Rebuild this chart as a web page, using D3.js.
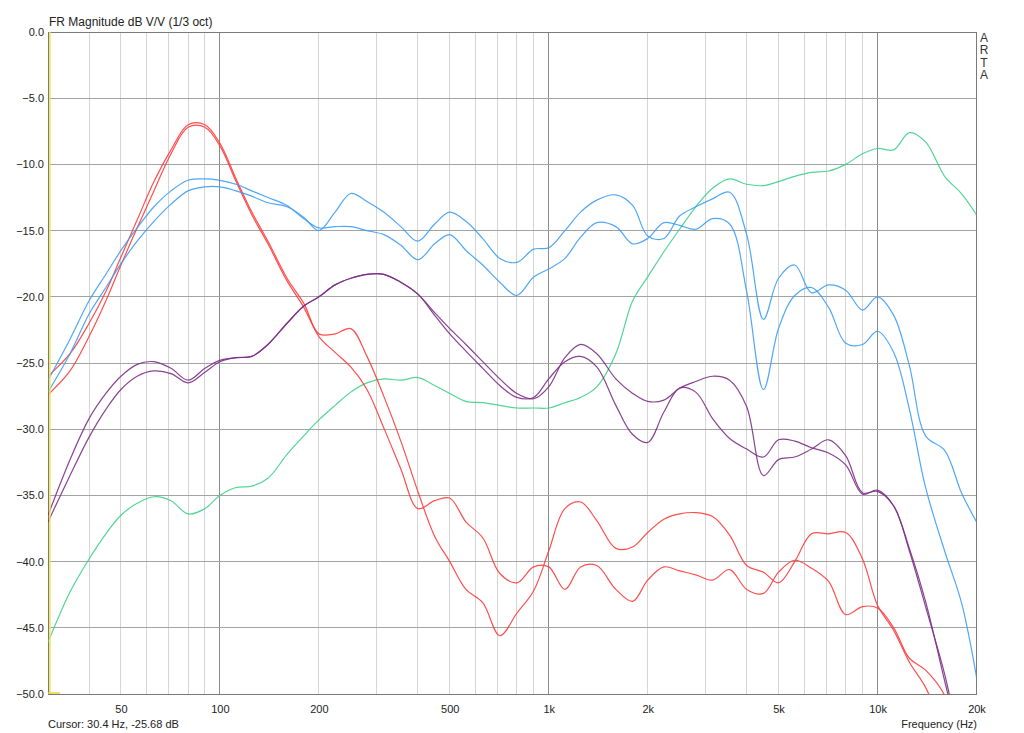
<!DOCTYPE html>
<html><head><meta charset="utf-8">
<script src="https://cdn.jsdelivr.net/npm/d3@7"></script>
<style>
html,body{margin:0;padding:0;background:#fff;}
svg{display:block;font-family:"Liberation Sans",Arial,sans-serif;}
</style></head>
<body>
<svg id="chart" width="1024" height="733"></svg>
<script>
const freqs = [30,35,40,45,50,56,63,71,80,90,100,112,125,140,160,180,200,224,250,280,315,355,400,450,500,560,630,710,800,900,1000,1120,1250,1400,1600,1800,2000,2240,2500,2800,3150,3550,4000,4500,5000,5600,6300,7100,8000,9000,10000,11200,12500,14000,16000,18000,20000];

const redA = [-26.0,-24.3,-22.0,-19.6,-17.0,-14.2,-11.3,-8.9,-7.0,-7.0,-8.4,-11.1,-13.6,-15.8,-18.6,-20.5,-22.8,-22.8,-22.4,-24.5,-27.5,-30.9,-34.7,-38.1,-40.0,-42.1,-43.1,-45.6,-43.9,-42.2,-39.2,-36.0,-35.5,-36.9,-39.0,-38.9,-37.8,-36.8,-36.4,-36.3,-36.6,-38.0,-40.3,-40.8,-41.6,-40.0,-37.9,-37.9,-37.8,-39.8,-43.3,-45.2,-47.6,-49.5,-53,-56,-58];
const redB = [-27.4,-25.6,-23.0,-20.3,-17.6,-14.8,-12.0,-9.2,-7.2,-7.2,-8.6,-11.3,-13.8,-16.0,-18.8,-20.8,-23.0,-24.2,-25.3,-27.0,-29.9,-33.0,-36.0,-35.4,-35.2,-37.0,-38.2,-40.9,-41.6,-40.4,-40.4,-42.1,-40.4,-40.3,-42.1,-43.0,-41.4,-40.4,-40.7,-41.0,-41.4,-40.6,-42.1,-42.4,-40.8,-39.9,-40.5,-41.5,-44.0,-43.4,-43.5,-45.0,-47.3,-48.2,-50.1,-54,-57];
const blueA = [-27.2,-24.3,-21.3,-19.3,-17.5,-15.8,-14.3,-13.0,-12.0,-11.7,-11.7,-12.0,-12.4,-12.9,-13.2,-14.0,-15.0,-13.6,-12.2,-12.8,-13.6,-14.7,-15.8,-14.5,-13.6,-14.3,-15.6,-17.1,-17.4,-16.4,-16.3,-15.0,-13.6,-12.7,-12.3,-13.1,-15.4,-15.6,-13.9,-13.2,-12.6,-12.1,-15.3,-21.7,-18.6,-17.6,-19.7,-19.1,-19.5,-21.0,-20.0,-21.4,-25.2,-30.5,-31.6,-34.8,-37.0];
const blueB = [-26.3,-23.2,-20.3,-18.3,-16.5,-14.8,-13.2,-12.0,-11.2,-11.1,-11.2,-11.5,-12.0,-12.5,-13.1,-14.1,-14.8,-14.7,-14.7,-15.0,-15.3,-16.1,-17.2,-16.0,-15.3,-16.5,-17.6,-18.9,-19.9,-18.5,-17.9,-17.1,-15.5,-14.4,-14.7,-16.0,-15.6,-14.4,-14.6,-14.9,-14.1,-14.5,-19.6,-27.0,-22.4,-19.9,-19.3,-20.8,-23.5,-23.6,-22.6,-24.2,-28.5,-34.4,-39.2,-43.1,-48.7];
const purpleP = [-36.5,-32.3,-29.2,-27.3,-26.0,-25.1,-24.9,-25.4,-26.3,-25.4,-24.8,-24.6,-24.5,-23.6,-22.0,-20.7,-20.0,-19.1,-18.6,-18.3,-18.3,-18.9,-19.8,-21.2,-22.4,-23.6,-24.9,-26.2,-27.3,-27.7,-26.8,-24.6,-23.6,-24.3,-26.2,-27.3,-27.9,-27.8,-26.9,-26.4,-26.0,-26.3,-28.3,-33.5,-32.3,-32.1,-31.5,-30.8,-32.0,-34.8,-34.7,-35.8,-39.2,-43.4,-48.5,-54,-57];
const purpleQ = [-37.0,-33.5,-30.6,-28.5,-27.0,-26.0,-25.6,-25.8,-26.5,-25.7,-24.9,-24.6,-24.5,-23.6,-22.0,-20.7,-20.0,-19.1,-18.6,-18.3,-18.3,-18.9,-19.8,-21.4,-22.8,-24.1,-25.4,-26.7,-27.6,-27.6,-26.2,-24.9,-24.5,-25.3,-28.2,-30.4,-31.0,-28.7,-26.9,-27.2,-29.2,-30.7,-31.5,-32.1,-30.8,-30.9,-31.4,-31.8,-32.7,-34.9,-34.6,-35.8,-39.0,-43.0,-49.0,-54,-57];
const green = [-46.1,-42.3,-39.8,-37.9,-36.5,-35.6,-35.1,-35.4,-36.4,-36.0,-35.0,-34.4,-34.3,-33.7,-31.9,-30.5,-29.3,-28.2,-27.2,-26.5,-26.2,-26.3,-26.1,-26.7,-27.3,-27.9,-28.0,-28.2,-28.4,-28.4,-28.4,-28.0,-27.6,-26.8,-24.3,-20.3,-18.5,-16.6,-14.9,-13.2,-11.8,-11.1,-11.5,-11.6,-11.3,-10.9,-10.6,-10.5,-10.0,-9.2,-8.8,-8.9,-7.6,-8.3,-10.9,-12.2,-13.8];

const seriesNames = ["green","redA","redB","purpleP","purpleQ","blueA","blueB"];
const seriesValues = [green, redA, redB, purpleP, purpleQ, blueA, blueB];
const seriesColors = ["#3fd08a","#ff3b3b","#ff3b3b","#7c2f86","#7c2f86","#3d9df5","#3d9df5"];

const xTickValues = [50,100,200,500,1000,2000,5000,10000,20000];
const xTickLabels = ["50","100","200","500","1k","2k","5k","10k","20k"];
const yTickValues = [0,-5,-10,-15,-20,-25,-30,-35,-40,-45,-50];
const gridFreqs = [40,50,60,70,80,90,100,200,300,400,500,600,700,800,900,1000,2000,3000,4000,5000,6000,7000,8000,9000,10000,20000];
const majorFreqs = [100,1000,10000];

const L = 48, R = 976.5, T = 32, B = 694;
const svg = d3.select("#chart");
const x = d3.scaleLog().domain([30,20000]).range([L,R]);
const y = d3.scaleLinear().domain([0,-50]).range([T,B]);

svg.append("defs").append("clipPath").attr("id","plotclip")
  .append("rect").attr("x",L).attr("y",T).attr("width",R-L).attr("height",B-T);

svg.append("g").selectAll("line").data(gridFreqs).join("line")
  .attr("x1",d=>x(d)).attr("x2",d=>x(d)).attr("y1",T).attr("y2",B)
  .attr("stroke",d=>majorFreqs.includes(d)?"#8c8c8c":"#d4d4d4")
  .attr("stroke-width",1).attr("shape-rendering","crispEdges");
svg.append("g").selectAll("line").data(yTickValues).join("line")
  .attr("x1",L).attr("x2",R).attr("y1",d=>y(d)).attr("y2",d=>y(d))
  .attr("stroke","#a3a3a3").attr("stroke-width",1).attr("shape-rendering","crispEdges");
svg.append("rect").attr("x",L).attr("y",T).attr("width",R-L).attr("height",B-T)
  .attr("fill","none").attr("stroke","#7a7a7a").attr("stroke-width",1).attr("shape-rendering","crispEdges");

const line = d3.line().x((d,i)=>x(freqs[i])).y(d=>y(d)).curve(d3.curveCatmullRom.alpha(0.5));
const plot = svg.append("g").attr("clip-path","url(#plotclip)");
seriesValues.forEach((vals,k)=>{
  plot.append("path").datum(vals).attr("d",line)
    .attr("fill","none").attr("stroke",seriesColors[k]).attr("stroke-width",1.2)
    .attr("stroke-opacity",0.9).attr("stroke-linejoin","round");
});

svg.append("line").attr("x1",x(30.4)).attr("x2",x(30.4)).attr("y1",T).attr("y2",B)
  .attr("stroke","#f2e24a").attr("stroke-width",1.5);
svg.append("line").attr("x1",L).attr("x2",L+12).attr("y1",B-1).attr("y2",B-1)
  .attr("stroke","#e8d23a").attr("stroke-width",1.5);

const xAxis = d3.axisBottom(x).tickValues(xTickValues).tickFormat((d,i)=>xTickLabels[i]).tickSize(0).tickPadding(11);
const gx = svg.append("g").attr("transform",`translate(0,${B})`).call(xAxis);
gx.select(".domain").remove();
gx.selectAll("text").attr("font-size",11).attr("fill","#222").attr("font-family","Liberation Sans, Arial, sans-serif");

const yAxis = d3.axisLeft(y).tickValues(yTickValues).tickFormat(d3.format(".1f")).tickSize(0).tickPadding(4);
const gy = svg.append("g").attr("transform",`translate(${L},0)`).call(yAxis);
gy.select(".domain").remove();
gy.selectAll("text").attr("font-size",11).attr("fill","#222").attr("font-family","Liberation Sans, Arial, sans-serif");

svg.append("text").attr("x",49).attr("y",26).attr("font-size",12).attr("fill","#222")
  .text("FR Magnitude dB V/V (1/3 oct)");
svg.append("text").attr("x",48).attr("y",728).attr("font-size",11).attr("fill","#222")
  .text("Cursor: 30.4 Hz, -25.68 dB");
svg.append("text").attr("x",977).attr("y",728).attr("font-size",11).attr("fill","#222")
  .attr("text-anchor","end").text("Frequency (Hz)");
const arta = ["A","R","T","A"];
svg.append("g").selectAll("text").data(arta).join("text")
  .attr("x",984).attr("y",(d,i)=>42+i*12.3).attr("font-size",12).attr("fill","#333")
  .attr("text-anchor","middle").text(d=>d);
</script>
</body></html>
